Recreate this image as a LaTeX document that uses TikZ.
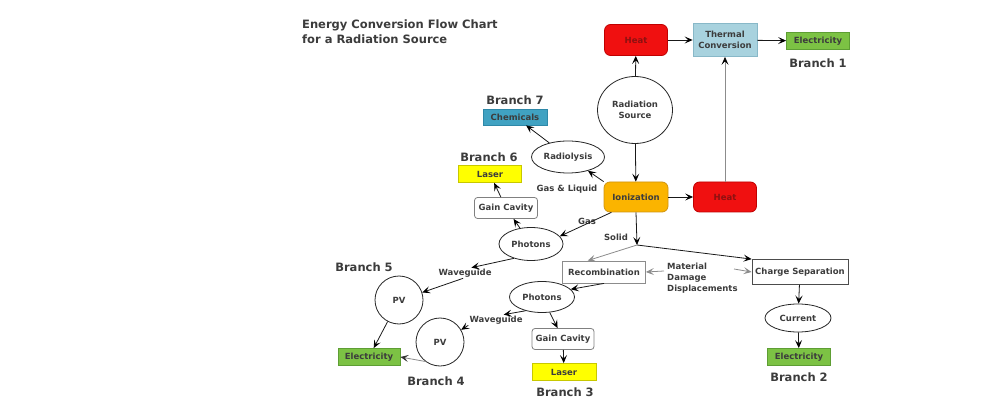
\documentclass[tikz,border=0pt]{standalone}
\usepackage{fontspec}
\setmainfont{DejaVu Sans}
\usepackage{xcolor}
\usepackage{tikz}
\usetikzlibrary{arrows.meta, shapes, backgrounds}

\definecolor{txtgray}{HTML}{3C3C3C}
\definecolor{heatred}{HTML}{F01010}
\definecolor{heatedge}{HTML}{C00000}
\definecolor{heattxt}{HTML}{8E1010}
\definecolor{ionorange}{HTML}{FBB400}
\definecolor{ionedge}{HTML}{D09410}
\definecolor{thermblue}{HTML}{A8D2DE}
\definecolor{thermedge}{HTML}{88B8C8}
\definecolor{elecgreen}{HTML}{7CC244}
\definecolor{elecedge}{HTML}{5E9E34}
\definecolor{chemteal}{HTML}{40A2C2}
\definecolor{chemedge}{HTML}{2E88A8}
\definecolor{laseryel}{HTML}{FFFF00}
\definecolor{laseredge}{HTML}{C8C800}
\definecolor{linegray}{HTML}{8C8C8C}

\tikzset{
  boxtext/.style={font=\fontsize{8.5}{11}\selectfont\bfseries, text=txtgray, align=center, inner sep=0pt},
  branch/.style={font=\fontsize{11.5}{14}\selectfont\bfseries, text=txtgray, inner sep=0pt},
  heatbox/.style={rectangle, rounded corners=6pt, fill=heatred, draw=heatedge, text=heattxt, minimum width=63pt, minimum height=31pt},
  ionbox/.style={rectangle, rounded corners=6pt, fill=ionorange, draw=ionedge, minimum width=64pt, minimum height=30pt},
  thermbox/.style={rectangle, fill=thermblue, draw=thermedge, minimum width=64pt, minimum height=33pt},
  elecbox/.style={rectangle, fill=elecgreen, draw=elecedge, minimum width=63pt, minimum height=17pt},
  chembox/.style={rectangle, fill=chemteal, draw=chemedge, minimum width=64pt, minimum height=16pt},
  laserbox/.style={rectangle, fill=laseryel, draw=laseredge, minimum width=63pt, minimum height=17pt},
  gainbox/.style={rectangle, rounded corners=3pt, draw=gray, fill=white, minimum width=63pt, minimum height=21pt},
  oval/.style={ellipse, draw=black!85, fill=white},
  pvcirc/.style={circle, draw=black!85, fill=white, minimum size=48pt}
}

\begin{document}
\begin{tikzpicture}[x=1pt, y=-1pt]
\path[use as bounding box, fill=white] (0,0) rectangle (984,403);

\node[branch, align=left, anchor=north west, font=\fontsize{11.5}{15}\selectfont\bfseries] (title) at (302,19.5) {Energy Conversion Flow Chart\\for a Radiation Source};

\begin{scope}[every node/.style={boxtext, thick}]
  \node[heatbox] (heatA) at (636,40) {Heat};
  \node[thermbox] (thermal) at (725,40) {Thermal\\Conversion};
  \node[elecbox] (elecA) at (818,41) {Electricity};
  \node[oval, minimum width=75pt, minimum height=67pt] (source) at (635,110) {Radiation\\Source};
  \node[ionbox] (ioniz) at (636,197) {Ionization};
  \node[heatbox, minimum height=30pt] (heatB) at (725,197) {Heat};
  \node[oval, minimum width=73pt, minimum height=32pt] (radiolysis) at (568,157) {Radiolysis};
  \node[chembox] (chem) at (515,117) {Chemicals};
  \node[laserbox] (laserF) at (490,174) {Laser};
  \node[gainbox] (gainF) at (506,208) {Gain Cavity};
  \node[oval, minimum width=64pt, minimum height=33pt] (photonsA) at (531,244) {Photons};
  \node[rectangle, draw=linegray, minimum width=83pt, minimum height=22pt] (recomb) at (604,272) {Recombination};
  \node[rectangle, draw=black!70, minimum width=96pt, minimum height=25pt] (chargesep) at (800,272) {Charge Separation};
  \node[oval, minimum width=66pt, minimum height=28pt] (current) at (798,318) {Current};
  \node[elecbox] (elecB) at (799,357) {Electricity};
  \node[oval, minimum width=65pt, minimum height=31pt] (photonsB) at (542,297) {Photons};
  \node[gainbox, minimum width=62pt] (gainC) at (563,339) {Gain Cavity};
  \node[laserbox, minimum width=64pt] (laserC) at (564,372) {Laser};
  \node[pvcirc] (pvE) at (399,300) {PV};
  \node[pvcirc] (pvD) at (440,342) {PV};
  \node[elecbox, minimum width=62pt] (elecD) at (369,357) {Electricity};
\end{scope}

% labels beside the arrows
\begin{scope}[every node/.style={boxtext}]
  \node (gasliq) at (567,189) {Gas \& Liquid};
  \node (gas) at (587,221) {Gas};
  \node (solid) at (616,237) {Solid};
  \node[inner sep=1pt] (waveA) at (465,273) {Waveguide};
  \node[inner sep=1pt] (waveB) at (496,320) {Waveguide};
  \node[align=left, anchor=west] (damage) at (667,278) {Material\\Damage\\Displacements};
\end{scope}

\begin{scope}[every node/.style={branch}]
  \node (branchA) at (818,63) {Branch 1};
  \node (branchB) at (799,377) {Branch 2};
  \node (branchC) at (565,392) {Branch 3};
  \node (branchD) at (436,381) {Branch 4};
  \node (branchE) at (364,267) {Branch 5};
  \node (branchF) at (489,157) {Branch 6};
  \node (branchG) at (515,100) {Branch 7};
\end{scope}

\coordinate (split) at (637,245);
\coordinate (dmgL) at (664,271);
\coordinate (dmgR) at (734,269);

\begin{scope}[>={Stealth[length=8pt, width=7pt, inset=3.5pt, black]},
              every edge/.style={draw=black!90, thick}]
    \path [->] (source) edge (heatA);
    \path [->] (heatA) edge (thermal);
    \path [->] (thermal) edge (elecA);
    \path [->] (source) edge (ioniz);
    \path [->] (ioniz) edge (heatB);
    \path [->] (ioniz.north west) edge (radiolysis);
    \path [->] (radiolysis) edge (chem);
    \path [->] (photonsA) edge (gainF);
    \path [->] (gainF) edge (laserF);
    \path [->] (ioniz.-148) edge (photonsA.15);
    \path [->] (ioniz.south) edge (split);
    \path [->] (split) edge (chargesep.north west);
    \path [->] (chargesep) edge (current);
    \path [->] (current) edge (elecB);
    \path [->] (recomb.south) edge (photonsB.15);
    \path [->] (photonsB) edge (gainC);
    \path [->] (gainC) edge (laserC);
    \path [->] (photonsA.220) edge (waveA.40);
    \path [->] (waveA.-110) edge (pvE.18);
    \path [->] (photonsB.220) edge (waveB.35);
    \path [->] (waveB.south west) edge (pvD.30);
    \path [->] (pvE) edge (elecD);
\end{scope}
\begin{scope}[>={Stealth[length=8pt, width=7pt, inset=3.5pt]},
              every edge/.style={draw=linegray, thick}]
    \path [->] (heatB) edge[-{Stealth[length=8pt, width=7pt, inset=3.5pt, black]}] (thermal);
    \path [->] (split) edge (recomb.145);
    \path [->] (dmgL) edge (recomb.east);
    \path [->] (dmgR) edge (chargesep.west);
    \path [->] (pvD.-127) edge[-{Stealth[length=8pt, width=7pt, inset=3.5pt, black!80]}] (elecD.east);
\end{scope}

\end{tikzpicture}
\end{document}
